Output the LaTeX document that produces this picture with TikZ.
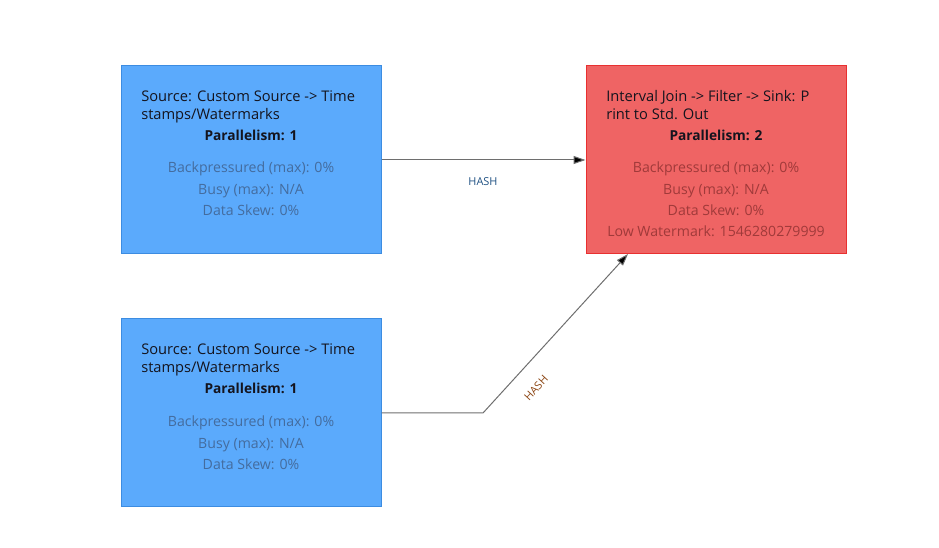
\documentclass[tikz,border=0pt]{standalone}
\usepackage{fontspec}
\setmainfont{Open Sans}
\usetikzlibrary{arrows.meta}
\definecolor{bfill}{RGB}{91,170,252}
\definecolor{bdraw}{RGB}{60,140,225}
\definecolor{rfill}{RGB}{239,100,100}
\definecolor{rdraw}{RGB}{232,48,48}
\definecolor{btext}{RGB}{68,108,158}
\definecolor{rtext}{RGB}{160,58,58}
\definecolor{ttext}{RGB}{20,20,30}
\definecolor{edgecol}{RGB}{110,110,110}
\definecolor{hashblue}{RGB}{30,80,130}
\definecolor{hashbrown}{RGB}{140,70,20}
\begin{document}
\begin{tikzpicture}[x=0.75pt,y=-0.75pt,
  opbox/.style={draw, line width=0.75pt, minimum width=195pt, minimum height=141pt, inner sep=0pt},
  title/.style={anchor=base west, inner sep=0pt, font=\fontsize{11}{12}\selectfont, text=ttext},
  para/.style={anchor=base, inner sep=0pt, font=\fontsize{10.3}{12}\selectfont\bfseries, text=ttext},
  metric/.style={anchor=base, inner sep=0pt, font=\fontsize{10.6}{12}\selectfont},
  edge/.style={draw=edgecol, line width=0.75pt, -{Triangle[length=9pt,width=6pt,fill=black]}},
  hashlbl/.style={inner sep=0pt, font=\fontsize{8.2}{9}\selectfont}]
\useasboundingbox (0,0) rectangle (939,548);
% boxes
\node[opbox, fill=bfill, draw=bdraw] (s1) at (251,160) {};
\node[opbox, fill=bfill, draw=bdraw] (s2) at (251,413) {};
\node[opbox, fill=rfill, draw=rdraw] (j) at (716,160) {};
% source 1 text
\node[title] (s1t1) at (141,102) {Source: Custom Source -> Time};
\node[title] (s1t2) at (141,120) {stamps/Watermarks};
\node[para] (s1p) at (251,141) {Parallelism: 1};
\node[metric, text=btext] (s1m1) at (251,173) {Backpressured (max): 0\%};
\node[metric, text=btext] (s1m2) at (251,195) {Busy (max): N/A};
\node[metric, text=btext] (s1m3) at (251,216) {Data Skew: 0\%};
% source 2 text
\node[title] (s2t1) at (141,355) {Source: Custom Source -> Time};
\node[title] (s2t2) at (141,373) {stamps/Watermarks};
\node[para] (s2p) at (251,394) {Parallelism: 1};
\node[metric, text=btext] (s2m1) at (251,427) {Backpressured (max): 0\%};
\node[metric, text=btext] (s2m2) at (251,449) {Busy (max): N/A};
\node[metric, text=btext] (s2m3) at (251,470) {Data Skew: 0\%};
% join text
\node[title] (jt1) at (606,102) {Interval Join -> Filter -> Sink: P};
\node[title] (jt2) at (606,120) {rint to Std. Out};
\node[para] (jp) at (716,141) {Parallelism: 2};
\node[metric, text=rtext] (jm1) at (716,173) {Backpressured (max): 0\%};
\node[metric, text=rtext] (jm2) at (716,195) {Busy (max): N/A};
\node[metric, text=rtext] (jm3) at (716,216) {Data Skew: 0\%};
\node[metric, text=rtext] (jm4) at (716,237) {Low Watermark: 1546280279999};
% edges
\coordinate (bend) at (483,413);
\coordinate (jin) at (628,254);
\draw[edge] (s1.east) -- (j.west);
\node[hashlbl, text=hashblue] (h1) at (483,182) {HASH};
\draw[edge] (s2.east) -- (bend) -- (jin);
\node[hashlbl, text=hashbrown, rotate=47.5] (h2) at (536,388) {HASH};
\end{tikzpicture}
\end{document}
